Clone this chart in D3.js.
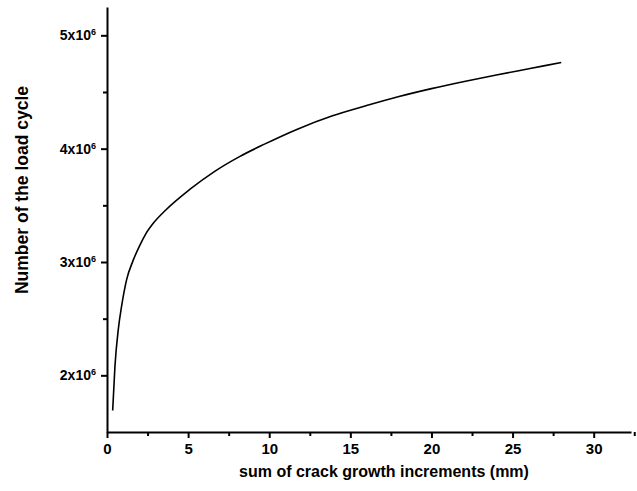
<!DOCTYPE html>
<html>
<head>
<meta charset="utf-8">
<script src="https://cdn.jsdelivr.net/npm/d3@7"></script>
<style>
  body { margin: 0; background: #fff; }
  svg text { font-family: "Liberation Sans", Arial, sans-serif; }
</style>
</head>
<body>
<div id="vis"></div>
<script>
// valores
const crackSum = [0.35, 0.49, 0.7, 0.9, 1.21, 1.6, 2.0, 2.4, 2.9, 3.56, 5.1, 6.64, 8.17, 9.71, 11.7, 13.9, 16, 18, 20, 22.1, 24, 26, 28];
const loadCycles = [1.69e6, 2.08e6, 2.41e6, 2.61e6, 2.845e6, 3.01e6, 3.14e6, 3.25e6, 3.35e6, 3.45e6, 3.64e6, 3.8e6, 3.93e6, 4.04e6, 4.17e6, 4.29e6, 4.38e6, 4.46e6, 4.53e6, 4.595e6, 4.65e6, 4.705e6, 4.76e6];
const xTicks = [0, 5, 10, 15, 20, 25, 30];
const xMinor = [2.5, 7.5, 12.5, 17.5, 22.5, 27.5, 32.5];
const yTicks = [2e6, 3e6, 4e6, 5e6];
const yMinor = [2.5e6, 3.5e6, 4.5e6];

const width = 637;
const height = 491;
const margin = { left: 107, right: 6, top: 7, bottom: 59 };

const svg = d3.select("#vis")
  .append("svg")
  .attr("width", width)
  .attr("height", height);

const x = d3.scaleLinear()
  .domain([0, 32.3])
  .range([margin.left, width - margin.right]);

const y = d3.scaleLinear()
  .domain([1.5e6, 5.25e6])
  .range([height - margin.bottom, margin.top]);

const data = crackSum.map((d, i) => [d, loadCycles[i]]);

// eje x
const xAxis = svg.append("g")
  .attr("transform", `translate(0,${y(1.5e6)})`)
  .call(d3.axisBottom(x).tickValues(xTicks).tickSize(6).tickSizeOuter(0).tickPadding(5));

svg.append("g")
  .attr("transform", `translate(0,${y(1.5e6)})`)
  .call(d3.axisBottom(x).tickValues(xMinor).tickSize(4).tickSizeOuter(0).tickFormat(""))
  .select(".domain").remove();

xAxis.selectAll("text")
  .style("font-size", "15px")
  .style("font-weight", "bold");

// eje y
const yAxis = svg.append("g")
  .attr("transform", `translate(${x(0)},0)`)
  .call(d3.axisLeft(y).tickValues(yTicks).tickSize(6).tickSizeOuter(0).tickFormat(""));

svg.append("g")
  .attr("transform", `translate(${x(0)},0)`)
  .call(d3.axisLeft(y).tickValues(yMinor).tickSize(4).tickSizeOuter(0).tickFormat(""))
  .select(".domain").remove();

yAxis.selectAll(".tick").each(function (d) {
  const t = d3.select(this).append("text")
    .attr("x", -11)
    .attr("dy", "0.32em")
    .attr("text-anchor", "end")
    .attr("fill", "#000")
    .style("font-size", "14px")
    .style("font-weight", "bold");
  t.append("tspan").text(`${d / 1e6}x10`);
  t.append("tspan").attr("dy", "-0.55em").style("font-size", "9px").text("6");
});

svg.selectAll(".domain, .tick line")
  .attr("stroke", "#000")
  .attr("stroke-width", 2);

// curva
svg.append("path")
  .datum(data)
  .attr("fill", "none")
  .attr("stroke", "#000")
  .attr("stroke-width", 1.6)
  .attr("d", d3.line().x(d => x(d[0])).y(d => y(d[1])).curve(d3.curveMonotoneX));

// etiquetas
svg.append("text")
  .attr("x", 384)
  .attr("y", 477)
  .attr("text-anchor", "middle")
  .style("font-size", "16px")
  .style("font-weight", "bold")
  .text("sum of crack growth increments (mm)");

svg.append("text")
  .attr("transform", "translate(28,190) rotate(-90)")
  .attr("text-anchor", "middle")
  .style("font-size", "17.5px")
  .style("font-weight", "bold")
  .text("Number of the load cycle");
</script>
</body>
</html>
